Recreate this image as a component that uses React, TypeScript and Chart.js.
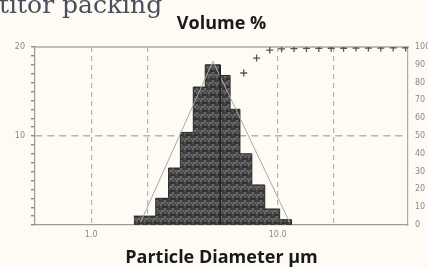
import React, { useEffect, useRef } from 'react';
import { Chart, registerables } from 'chart.js';
Chart.register(...registerables);

// Histogram bins: left edges (µm) and volume % per bin (last entry closes the bin)
const histEdgesUm = [1.69, 2.22, 2.6, 3.01, 3.53, 4.09, 4.92, 5.56, 6.28, 7.27, 8.53, 10.25, 11.87];
const histVolumePct = [1.0, 3.0, 6.4, 10.4, 15.5, 18.0, 16.8, 13.0, 8.0, 4.5, 1.8, 0.6, 0];

// Thin frequency curve
const freqCurveUm = [1.84, 4.5, 11.6];
const freqCurvePct = [0.3, 18.4, 0.3];

// Median marker
const medianUm = 4.92;
const medianTopPct = 18;

// Cumulative (% passing) markers, right axis
const cumSizesUm = [6.58, 7.71, 9.07, 10.5, 12.24, 14.27, 16.62, 19.38, 22.58, 26.32, 30.67, 35.74, 41.65, 48.55];
const cumPassingPct = [85.4, 93.8, 98.3, 99.0, 99.1, 99.2, 99.2, 99.3, 99.3, 99.4, 99.4, 99.4, 99.5, 99.5];

// Axes
const xMin = 0.5;
const xMax = 50;
const xTickValues = [0.5, 1, 2, 5, 10, 20, 50];
const xGridValues = [1, 2, 10, 20];
const xLabelValues = [1, 10];
const xLabelTexts = ['1.0', '10.0'];
const yLeftLabelValues = [10, 20];
const yLeftGridValues = [10];

const BG = '#fdfbf4';

function makePattern(): CanvasPattern | string {
  const c = document.createElement('canvas');
  c.width = 8;
  c.height = 8;
  const g = c.getContext('2d');
  if (!g) return '#4a4a4a';
  const shades = ['#3a3a3a', '#5e5e5e', '#333333', '#707070', '#4a4a4a', '#3c3c3c', '#5a5a5a', '#444444',
    '#666666', '#383838', '#505050', '#303030', '#5c5c5c', '#474747', '#6a6a6a', '#3e3e3e'];
  let k = 0;
  for (let y = 0; y < 8; y += 2) {
    for (let x = 0; x < 8; x += 2) {
      g.fillStyle = shades[(k * 7) % shades.length];
      g.fillRect(x, y, 2, 2);
      k++;
    }
  }
  return g.createPattern(c, 'repeat') || '#4a4a4a';
}

export default function App() {
  const ref = useRef<HTMLCanvasElement | null>(null);
  useEffect(() => {
    document.body.style.margin = '0';
    document.body.style.background = BG;
    if (!ref.current) return;
    const tickFont = { family: 'DejaVu Sans', size: 8 };
    const titleFont = { family: 'Open Sans', size: 18, weight: 'bold' as const };
    const chart = new Chart(ref.current, {
      type: 'line',
      data: {
        datasets: [
          {
            label: 'Cumulative',
            data: cumSizesUm.map((x, i) => ({ x, y: cumPassingPct[i] })),
            yAxisID: 'y1',
            xAxisID: 'x',
            showLine: false,
            pointStyle: 'cross',
            pointRadius: 3.5,
            pointBorderColor: '#555',
            pointBorderWidth: 1.3,
            order: 4,
          },
          {
            label: 'Volume',
            data: histEdgesUm.map((x, i) => ({ x, y: histVolumePct[i] })),
            yAxisID: 'y',
            xAxisID: 'x',
            stepped: 'before',
            fill: 'origin',
            backgroundColor: makePattern(),
            borderColor: '#2a2a2a',
            borderWidth: 1,
            pointRadius: 0,
            order: 3,
          },
          {
            label: 'Frequency',
            data: freqCurveUm.map((x, i) => ({ x, y: freqCurvePct[i] })),
            yAxisID: 'y',
            xAxisID: 'x',
            borderColor: '#a8a8a8',
            borderWidth: 1,
            pointRadius: 0,
            fill: false,
            order: 2,
          },
          {
            label: 'Median',
            data: [{ x: medianUm, y: 0 }, { x: medianUm, y: medianTopPct }],
            yAxisID: 'y',
            xAxisID: 'x',
            borderColor: '#1e1e1e',
            borderWidth: 1.5,
            pointRadius: 0,
            fill: false,
            order: 1,
          },
        ],
      },
      options: {
        responsive: false,
        animation: false,
        layout: { padding: 0 },
        plugins: { legend: { display: false }, tooltip: { enabled: false }, title: { display: false } },
        scales: {
          x: {
            type: 'logarithmic',
            position: 'bottom',
            min: xMin,
            max: xMax,
            afterBuildTicks: (s: any) => { s.ticks = xTickValues.map((v) => ({ value: v })); },
            afterFit: (s: any) => { s.height = 43; },
            ticks: {
              autoSkip: false,
              maxRotation: 0,
              padding: 5,
              color: '#8a8a8a',
              font: tickFont,
              callback: (v: any) => {
                const i = xLabelValues.indexOf(Number(v));
                return i >= 0 ? xLabelTexts[i] : '';
              },
            },
            grid: {
              drawTicks: false,
              color: (ctx: any) => (xGridValues.includes(ctx.tick?.value) ? '#b4b4b4' : 'rgba(0,0,0,0)'),
              lineWidth: 1.2,
            },
            border: { display: true, color: '#9a9a9a', width: 1.2, dash: [5, 4] },
            title: {
              display: true,
              text: 'Particle Diameter µm',
              color: '#1a1a1a',
              font: titleFont,
              padding: { top: 0, bottom: -1 },
            },
          },
          xTop: {
            type: 'logarithmic',
            position: 'top',
            min: xMin,
            max: xMax,
            afterFit: (s: any) => { s.height = 47; },
            ticks: { display: false },
            grid: { drawOnChartArea: false, drawTicks: false },
            border: { display: true, color: '#bdbdbd', width: 2 },
            title: {
              display: true,
              text: 'Volume %',
              color: '#1a1a1a',
              font: titleFont,
              padding: { top: 13, bottom: 0 },
            },
          },
          y: {
            type: 'linear',
            position: 'left',
            min: 0,
            max: 20,
            afterFit: (s: any) => { s.width = 35; },
            ticks: {
              stepSize: 1,
              autoSkip: false,
              padding: 6,
              color: '#8a8a8a',
              font: tickFont,
              callback: (v: any) => (yLeftLabelValues.includes(Number(v)) ? String(v) : ''),
            },
            grid: {
              color: (ctx: any) => (yLeftGridValues.includes(ctx.tick?.value) ? '#b4b4b4' : 'rgba(0,0,0,0)'),
              lineWidth: 1.4,
              tickColor: '#8a8a8a',
              tickLength: 4,
            },
            border: { display: true, color: '#9a9a9a', width: 1.2, dash: [7, 5] },
          },
          y1: {
            type: 'linear',
            position: 'right',
            min: 0,
            max: 100,
            afterFit: (s: any) => { s.width = 20; },
            ticks: { stepSize: 10, padding: 7, color: '#8a8a8a', font: tickFont },
            grid: { drawOnChartArea: false, drawTicks: false },
            border: { display: true, color: '#aaaaaa', width: 1.2 },
          },
        },
      },
    });
    return () => chart.destroy();
  }, []);

  return (
    <div style={{ position: 'fixed', left: 0, top: 0, width: 428, height: 268, background: BG, overflow: 'hidden' }}>
      <canvas ref={ref} width={428} height={268} style={{ position: 'absolute', left: 0, top: 0 }} />
      <div
        style={{
          position: 'absolute',
          left: -1,
          top: -7,
          fontFamily: '"DejaVu Serif", serif',
          fontSize: 25,
          lineHeight: '24px',
          color: '#4a4e5f',
          whiteSpace: 'nowrap',
        }}
      >
        titor packing
      </div>
    </div>
  );
}
